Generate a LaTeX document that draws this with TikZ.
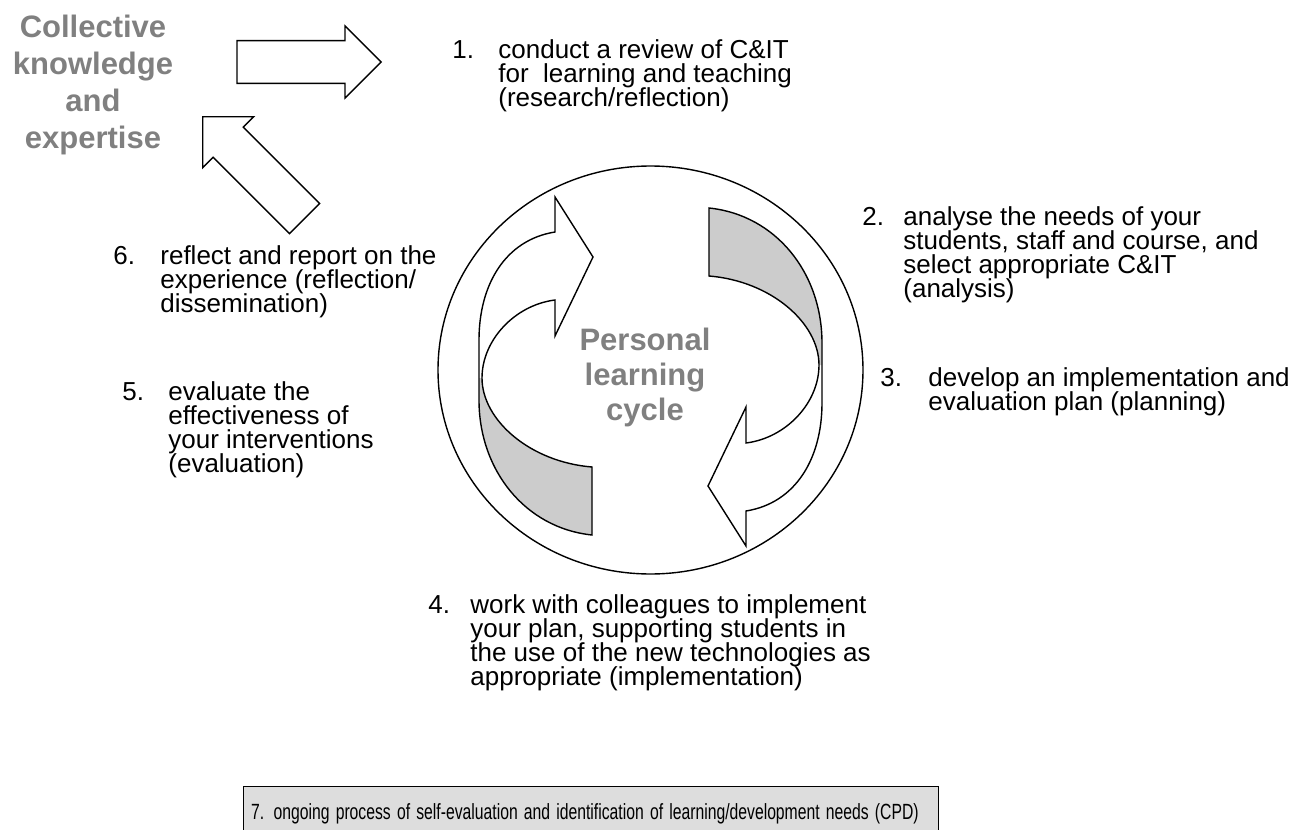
\documentclass[tikz,border=0pt]{standalone}
\usepackage{fontspec}
\setmainfont{Liberation Sans}
\usepackage{xcolor}
\usetikzlibrary{shapes.geometric}
\usetikzlibrary{shapes.arrows}
\usetikzlibrary{positioning}
\definecolor{titlegray}{HTML}{808080}
\definecolor{bandgray}{HTML}{CCCCCC}
\definecolor{boxgray}{HTML}{DDDDDD}
\lineskiplimit=-100pt
\tikzset{
  font={\fontsize{13}{12}\selectfont}}

\begin{document}
\begin{tikzpicture}[x=0.5pt, y=-0.5pt]

    \tikzset{bigarrow/.style = {single arrow, draw=black, line width=0.7pt, minimum height=72pt, minimum width=36pt, inner xsep=0pt, inner ysep=10pt, anchor=tip}}
    \tikzset{title/.style = {align=center, text=titlegray, font=\bfseries\fontsize{15.5}{18.5}\selectfont}}
    \tikzset{num/.style = {anchor=base west, inner sep=0pt}}
    \tikzset{item/.style = {anchor=base west, align=left, inner sep=0pt}}
    \tikzset{band/.style = {draw=black, line width=0.7pt}}

    \useasboundingbox (0,0) rectangle (1314,830);

    % outer knowledge
    \node[title] (collective) at (93,85) {Collective\\knowledge\\and\\expertise};
    \node[bigarrow] (toreview) at (382,62) {};
    \node[bigarrow, rotate=135] (fromreflect) at (202,116) {};

    % cycle
    \node[draw, ellipse, line width=0.7pt, minimum width=212.5pt, minimum height=204pt, inner sep=0pt] (cycle) at (650.5,370) {};
    \foreach \turn in {0,180} {
      \begin{scope}[rotate around={\turn:(650.5,371.5)}]
        \fill[bandgray] (482,378) .. controls (482,420) and (530,462) .. (592,467) -- (592,535) .. controls (525,528) and (479,470) .. (479,400) -- (479,378) -- cycle;
        \draw[band] (555,232) .. controls (505,240) and (479,285) .. (479,340) -- (479,400) .. controls (479,470) and (525,528) .. (592,535) -- (592,467) .. controls (530,462) and (482,420) .. (482,378) .. controls (482,340) and (515,305) .. (555,300) -- (555,336) -- (593,257) -- (555,197) -- cycle;
      \end{scope}
    }
    \node[title, font=\bfseries\fontsize{15.5}{17.5}\selectfont] (personal) at (645,377) {Personal\\learning\\cycle};

    % steps (base = last line)
    \node[num] (n1) at (452,58) {1.};
    \node[item] (s1) at (498,106) {conduct a review of C\&IT\\for~ learning and teaching\\(research/reflection)};
    \node[num] (n2) at (862,225) {2.};
    \node[item] (s2) at (903,297) {analyse the needs of your\\students, staff and course, and\\select appropriate C\&IT\\(analysis)};
    \node[num] (n3) at (880,386) {3.};
    \node[item] (s3) at (928,410) {develop an implementation and\\evaluation plan (planning)};
    \node[num] (n4) at (428,613) {4.};
    \node[item] (s4) at (470,685) {work with colleagues to implement\\your plan, supporting students in\\the use of the new technologies as\\appropriate (implementation)};
    \node[num] (n5) at (122,400) {5.};
    \node[item] (s5) at (168,472) {evaluate the\\effectiveness of\\your interventions\\(evaluation)};
    \node[num] (n6) at (113,264) {6.};
    \node[item] (s6) at (160,312) {reflect and report on the\\experience (reflection/\\dissemination)};

    % ongoing
    \node[draw=black, fill=boxgray, line width=0.7pt, anchor=north west, text width=340pt, inner xsep=3.75pt, minimum height=27pt, align=left] (cpd) at (243,786) {\fontsize{11}{12}\selectfont\scalebox{0.715}[1]{7. ongoing process of self-evaluation and identification of learning/development needs (CPD)}};

\end{tikzpicture}
\end{document}
